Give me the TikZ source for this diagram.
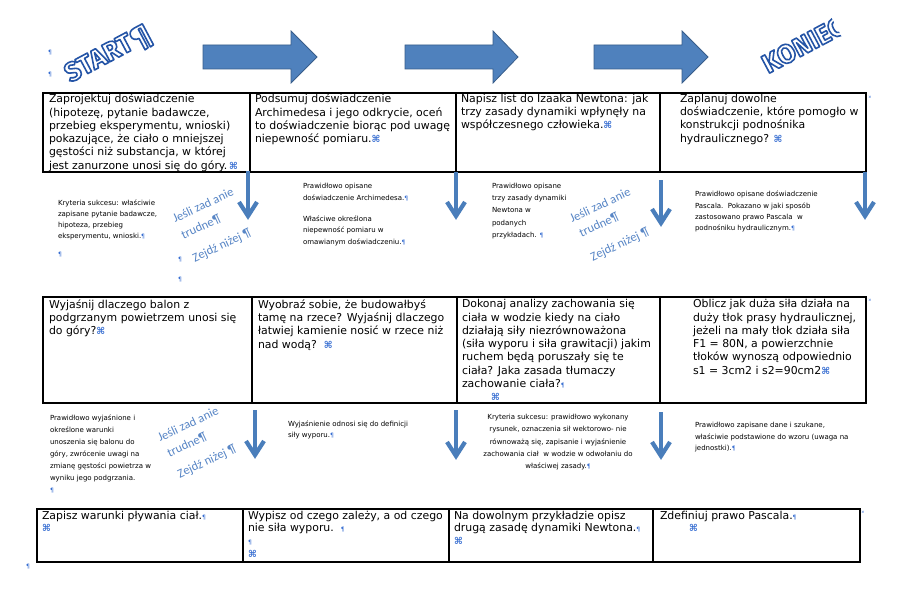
\documentclass[tikz,border=0pt]{standalone}
\usepackage{fontspec}
\setmainfont{DejaVu Sans}
\newfontfamily\artfont{Fira Sans}
\newfontfamily\calfont{Carlito}
\usetikzlibrary{calc}
\definecolor{arrowblue}{RGB}{79,129,189}
\definecolor{arrowedge}{RGB}{56,93,138}
\definecolor{downblue}{RGB}{74,126,187}
\definecolor{markblue}{RGB}{55,110,210}
\definecolor{hintblue}{RGB}{88,134,198}
\newcommand{\cellmk}{{\color{markblue}\fontsize{9.5}{9.5}\selectfont\bfseries ⌘}}
\newcommand{\pilcrow}{{\color{markblue}\fontsize{6}{6}\selectfont ¶}}
\newcommand{\outlined}[1]{{\color{white}\special{pdf:literal direct 2 Tr 1.6 w 1 j 0.14 0.33 0.65 RG}#1\special{pdf:literal direct 0 Tr}}}
\newcommand{\blockarr}[3]{%
  \draw[blockarrow] (#1,45) -- (#2,45) -- (#2,31) -- (#3,57) -- (#2,83) -- (#2,69) -- (#1,69) -- cycle;}
\newcommand{\downarr}[3]{%
  \draw[downarrow] (#1,#2) -- (#1,#3-4);
  \draw[downarrow] (#1-9,#3-18) -- (#1,#3-4) -- (#1+9,#3-18);}
\newcommand{\wordart}[3]{%
  \node[art] (#1) at (#2) {\outlined{#3}};}
\begin{document}
\begin{tikzpicture}[x=1pt,y=-1pt,
  cell/.style={anchor=north west, yshift=9pt, inner sep=0pt, outer sep=0pt, align=left,
    font=\fontsize{10.9}{#1}\selectfont, execute at begin node={\rule{0pt}{9pt}}},
  cell/.default=13.3,
  crit/.style={anchor=north west, yshift=6pt, inner sep=0pt, outer sep=0pt, align=left,
    font=\fontsize{7}{#1}\selectfont, execute at begin node={\rule{0pt}{6pt}}},
  crit/.default=12,
  tbl/.style={draw=black, line width=1.3pt},
  blockarrow/.style={fill=arrowblue, draw=arrowedge, line width=0.8pt, line join=miter},
  downarrow/.style={draw=downblue, line width=4.2pt, line join=miter, line cap=butt},
  hint/.style={font=\calfont\fontsize{12.5}{12.5}\selectfont, text=hintblue, rotate=25, inner sep=0pt},
  art/.style={font=\artfont\bfseries\fontsize{26.5}{26.5}\selectfont, rotate=28, inner sep=0pt},
  markn/.style={inner sep=0pt, text=markblue, font=\fontsize{6}{6}\selectfont},
  tinymark/.style={inner sep=0pt, text=markblue, font=\fontsize{4}{4}\selectfont}]

\fill[white] (0,0) rectangle (910,591);
\useasboundingbox (0,0) rectangle (910,591);

% ---------- word art ----------
\coordinate (startpos) at (109,55);
\wordart{start}{startpos}{START¶}
\coordinate (koniecpos) at (803,45);
\begin{scope}
  \clip[rotate around={28:(koniecpos)}] ($(koniecpos)+(-70,-30)$) rectangle ($(koniecpos)+(38,30)$);
  \wordart{koniec}{koniecpos}{KONIEC}
\end{scope}

\node[markn] (p1) at (50,53) {¶};
\node[markn] (p2) at (50,75) {¶};

% ---------- block arrows ----------
\blockarr{203}{291}{317}
\blockarr{405}{493}{518}
\blockarr{594}{682}{708}

% ---------- row 1 table ----------
\draw[tbl] (43,93) rectangle (866,172);
\draw[tbl] (250,93) -- (250,172) (456,93) -- (456,172) (660,93) -- (660,172);
\node[tinymark] (m1) at (870,97) {¤};

\node[cell] (r1c1) at (49,103) {Zaprojektuj doświadczenie\\(hipotezę, pytanie badawcze,\\przebieg eksperymentu, wnioski)\\pokazujące, że ciało o mniejszej\\gęstości niż substancja, w której\\jest zanurzone unosi się do góry.\,\cellmk};
\node[cell] (r1c2) at (255,103) {Podsumuj doświadczenie\\Archimedesa i jego odkrycie, oceń\\to doświadczenie biorąc pod uwagę\\niepewność pomiaru.\cellmk};
\node[cell] (r1c3) at (461,103) {Napisz list do Izaaka Newtona: jak\\trzy zasady dynamiki wpłynęły na\\współczesnego człowieka.\cellmk};
\node[cell] (r1c4) at (680,103) {Zaplanuj dowolne\\doświadczenie, które pomogło w\\konstrukcji podnośnika\\hydraulicznego? \cellmk};

% ---------- row 1 arrows and criteria ----------
\downarr{248}{171}{220}
\downarr{456}{172}{220}
\downarr{661}{180}{227}
\downarr{865}{172}{220}

\node[crit=11.2] (k1) at (58,205.5) {Kryteria sukcesu: właściwie\\zapisane pytanie badawcze,\\hipoteza, przebieg\\eksperymentu, wnioski.\pilcrow};
\node[markn] (p3) at (60,255) {¶};
\node[markn] (p4) at (180,260) {¶};
\node[markn] (p5) at (180,280) {¶};

\node[crit=12.6] (k2a) at (303,189) {Prawidłowo opisane\\doświadczenie Archimedesa.\pilcrow};
\node[crit=11.5] (k2b) at (303,221.5) {Właściwe określona\\niepewność pomiaru w\\omawianym doświadczeniu.\pilcrow};
\node[crit=12.25] (k3) at (492,189) {Prawidłowo opisane\\trzy zasady dynamiki\\Newtona w\\podanych\\przykładach. \pilcrow};
\node[crit=11.4] (k4) at (695,197) {Prawidłowo opisane doświadczenie\\Pascala.\ \ Pokazano w jaki sposób\\zastosowano prawo Pascala\ \ w\\podnośniku hydraulicznym.\pilcrow};

\node[hint] (h1a) at (203,205) {Jeśli zad anie};
\node[hint] (h1b) at (201,227) {trudne¶};
\node[hint] (h1c) at (222,246) {Zejdź niżej ¶};
\node[hint] (h2a) at (600,205) {Jeśli zad anie};
\node[hint] (h2b) at (599,225) {trudne¶};
\node[hint] (h2c) at (620,245) {Zejdź niżej ¶};

% ---------- row 2 table ----------
\draw[tbl] (43,297) rectangle (866,403);
\draw[tbl] (252,297) -- (252,403) (457,297) -- (457,403) (660,297) -- (660,403);
\node[tinymark] (m2) at (870,300) {¤};

\node[cell] (r2c1) at (49,308.5) {Wyjaśnij dlaczego balon z\\podgrzanym powietrzem unosi się\\do góry?\cellmk};
\node[cell] (r2c2) at (258,308.5) {Wyobraź sobie, że budowałbyś\\tamę na rzece? Wyjaśnij dlaczego\\łatwiej kamienie nosić w rzece niż\\nad wodą?\ \ \cellmk};
\node[cell] (r2c3) at (462,308.5) {Dokonaj analizy zachowania się\\ciała w wodzie kiedy na ciało\\działają siły niezrównoważona\\(siła wyporu i siła grawitacji) jakim\\ruchem będą poruszały się te\\ciała? Jaka zasada tłumaczy\\zachowanie ciała?\pilcrow\\\hspace*{29pt}\cellmk};
\node[cell] (r2c4) at (693,308.5) {Oblicz jak duża siła działa na\\duży tłok prasy hydraulicznej,\\jeżeli na mały tłok działa siła\\F1 = 80N, a powierzchnie\\tłoków wynoszą odpowiednio\\s1 = 3cm2 i s2=90cm2\cellmk};

% ---------- row 2 arrows and criteria ----------
\downarr{255}{410}{459}
\downarr{456}{410}{460}
\downarr{661}{412}{460}

\node[crit=12.1] (k5) at (50,420.5) {Prawidłowo wyjaśnione i\\określone warunki\\unoszenia się balonu do\\góry, zwrócenie uwagi na\\zmianę gęstości powietrza w\\wyniku jego podgrzania.\\\pilcrow};
\node[crit=11] (k6) at (288,427) {Wyjaśnienie odnosi się do definicji\\siły wyporu.\pilcrow};
\node[crit=12.1, anchor=north, align=center] (k7) at (558,420.5) {Kryteria sukcesu: prawidłowo wykonany\\rysunek, oznaczenia sił wektorowo- nie\\równoważą się, zapisanie i wyjaśnienie\\zachowania ciał\ \ w wodzie w odwołaniu do\\właściwej zasady.\pilcrow};
\node[crit=11.7] (k8) at (695,428) {Prawidłowo zapisane dane i szukane,\\właściwie podstawione do wzoru (uwaga na\\jednostki).\pilcrow};

\node[hint] (h3a) at (188,424) {Jeśli zad anie};
\node[hint] (h3b) at (187,445) {trudne¶};
\node[hint] (h3c) at (207,462) {Zejdź niżej ¶};

% ---------- row 3 table ----------
\draw[tbl] (37,509) rectangle (860,562);
\draw[tbl] (243,509) -- (243,562) (449,509) -- (449,562) (653,509) -- (653,562);
\node[tinymark] (m3) at (863,512) {¤};

\node[cell=12.7] (r3c1) at (42,520) {Zapisz warunki pływania ciał.\pilcrow\\\cellmk};
\node[cell=12.7] (r3c2) at (248,520) {Wypisz od czego zależy, a od czego\\nie siła wyporu.\ \ \pilcrow\\\pilcrow\\\cellmk};
\node[cell=12.7] (r3c3) at (454,520) {Na dowolnym przykładzie opisz\\drugą zasadę dynamiki Newtona.\pilcrow\\\cellmk};
\node[cell=12.7] (r3c4) at (660,520) {Zdefiniuj prawo Pascala.\pilcrow\\\hspace*{29pt}\cellmk};

\node[markn] (p6) at (28,567) {¶};
\end{tikzpicture}
\end{document}
